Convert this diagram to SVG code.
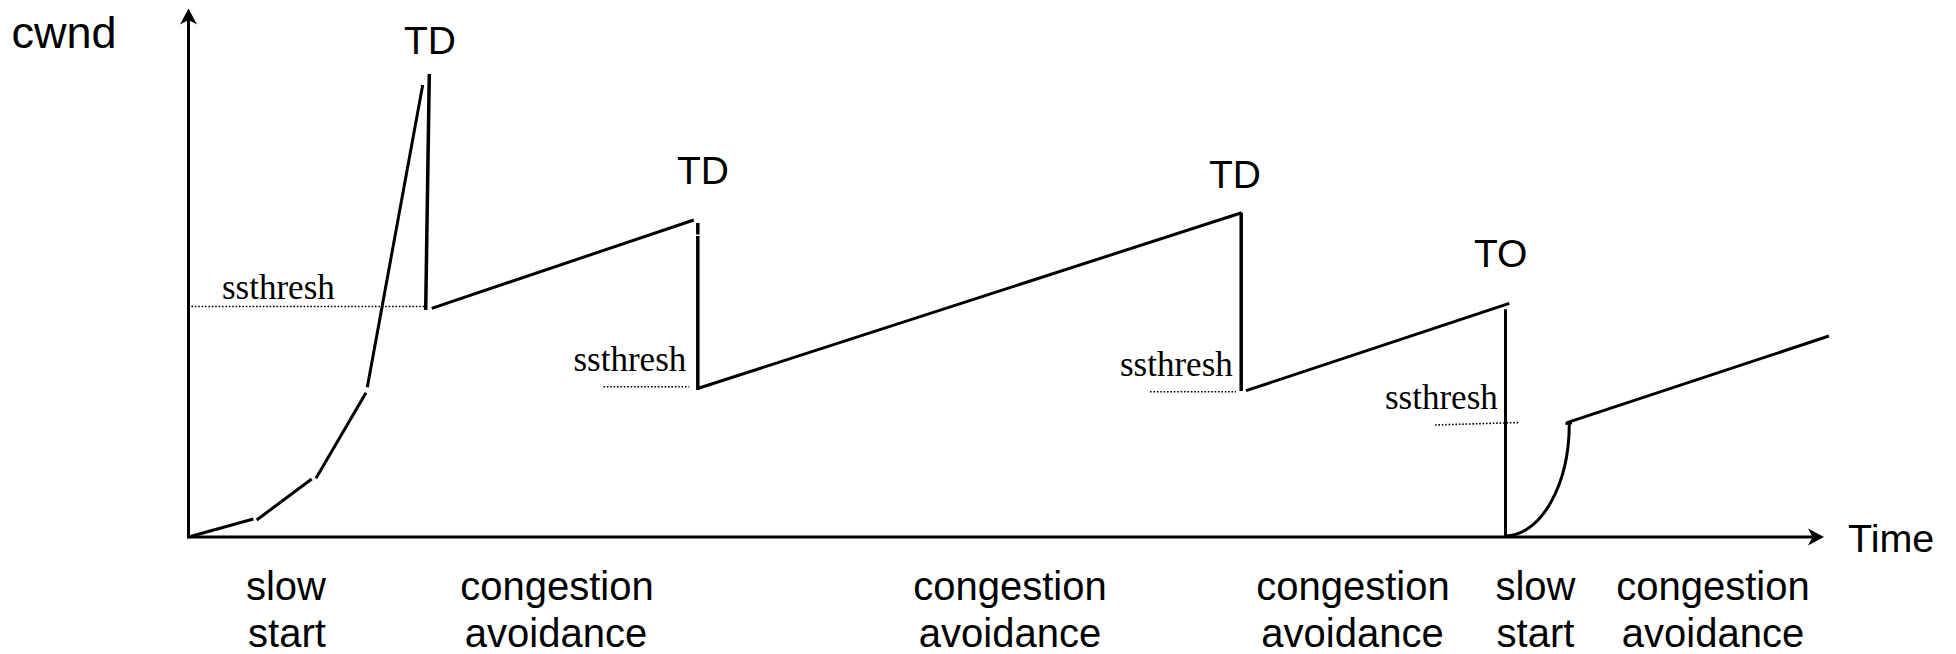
<svg xmlns="http://www.w3.org/2000/svg" width="1956" height="654" viewBox="0 0 1956 654">
  <style>
    .ln { stroke: #000; stroke-width: 3; fill: none; stroke-linecap: butt; }
    .vt { stroke: #000; stroke-width: 3.5; fill: none; }
    .dot { stroke: #000; stroke-width: 1.6; fill: none; stroke-dasharray: 1.6 1.8; }
    .sans { font-family: "Liberation Sans", Arial, sans-serif; fill: #000; }
    .serif { font-family: "Liberation Serif", "Times New Roman", serif; font-size: 35px; fill: #000; }
    .phase { font-family: "Liberation Sans", Arial, sans-serif; font-size: 40px; fill: #000; text-anchor: middle; }
  </style>
  <defs>
    <marker id="arrow" markerUnits="userSpaceOnUse" markerWidth="20" markerHeight="20" viewBox="0 -10 17 20" refX="4.5" refY="0" orient="auto">
      <path d="M16,0 L0,-8.5 L4.5,0 L0,8.5 Z" fill="#000"/>
    </marker>
  </defs>
  <rect width="1956" height="654" fill="#fff"/>

  <!-- axes -->
  <g id="axes">
    <line class="ln" x1="188.5" y1="537" x2="188.5" y2="20" marker-end="url(#arrow)"/>
    <line class="ln" x1="187" y1="537" x2="1812.5" y2="537" marker-end="url(#arrow)"/>
    <text class="sans" x="11.5" y="48" font-size="45">cwnd</text>
    <text class="sans" x="1848" y="552" font-size="39.5">Time</text>
  </g>

  <!-- window trace -->
  <g id="trace">
    <!-- initial slow start -->
    <line class="ln" x1="188.5" y1="537" x2="253.3" y2="519"/>
    <line class="ln" x1="256.7" y1="520" x2="311.7" y2="479"/>
    <line class="ln" x1="316" y1="478.3" x2="366" y2="392.7"/>
    <line class="ln" x1="367.3" y1="387.3" x2="422.7" y2="85"/>
    <!-- first triple duplicate drop -->
    <line class="vt" x1="429.3" y1="74" x2="425.7" y2="310"/>
    <line class="ln" x1="431.7" y1="308.3" x2="693.8" y2="220"/>
    <!-- second drop -->
    <line class="vt" x1="697.8" y1="223" x2="697.8" y2="234.5"/>
    <line class="vt" x1="697.8" y1="236" x2="697.8" y2="390"/>
    <line class="ln" x1="698.4" y1="388.3" x2="1241.6" y2="212.7"/>
    <!-- third drop -->
    <line class="vt" x1="1241.2" y1="212.7" x2="1241.2" y2="391"/>
    <line class="ln" x1="1246" y1="390.7" x2="1509.3" y2="303.3"/>
    <!-- timeout -->
    <line class="ln" x1="1505.5" y1="309.3" x2="1505.5" y2="537"/>
    <path class="ln" d="M1505,536 A64.3,112.7 0 0 0 1569.3,423.3"/>
    <line class="ln" x1="1565.5" y1="423.5" x2="1572" y2="422.8"/>
    <line class="ln" x1="1567" y1="422.7" x2="1829" y2="336"/>
  </g>

  <!-- ssthresh levels -->
  <g id="thresholds">
    <line class="dot" x1="188" y1="306.5" x2="425" y2="306.5"/>
    <line class="dot" x1="603.4" y1="386.7" x2="689.2" y2="386.7"/>
    <line class="dot" x1="1150" y1="391.7" x2="1236" y2="391.7"/>
    <line class="dot" x1="1435" y1="425" x2="1519.3" y2="422.5"/>
    <text class="serif" x="222" y="299">ssthresh</text>
    <text class="serif" x="573.5" y="371">ssthresh</text>
    <text class="serif" x="1120" y="376">ssthresh</text>
    <text class="serif" x="1385" y="409.3">ssthresh</text>
  </g>

  <!-- loss events -->
  <g id="events">
    <text class="sans" x="404" y="53.5" font-size="39">TD</text>
    <text class="sans" x="677" y="184" font-size="39">TD</text>
    <text class="sans" x="1209" y="188" font-size="39">TD</text>
    <text class="sans" x="1474" y="266.5" font-size="39">TO</text>
  </g>

  <!-- phase labels -->
  <g id="phases">
    <text class="phase" x="286" y="600">slow</text>
    <text class="phase" x="287" y="647">start</text>
    <text class="phase" x="557" y="600">congestion</text>
    <text class="phase" x="556" y="647">avoidance</text>
    <text class="phase" x="1010" y="600">congestion</text>
    <text class="phase" x="1010" y="647">avoidance</text>
    <text class="phase" x="1353" y="600">congestion</text>
    <text class="phase" x="1352.5" y="647">avoidance</text>
    <text class="phase" x="1535.5" y="600">slow</text>
    <text class="phase" x="1535.5" y="647">start</text>
    <text class="phase" x="1713" y="600">congestion</text>
    <text class="phase" x="1713" y="647">avoidance</text>
  </g>
</svg>
